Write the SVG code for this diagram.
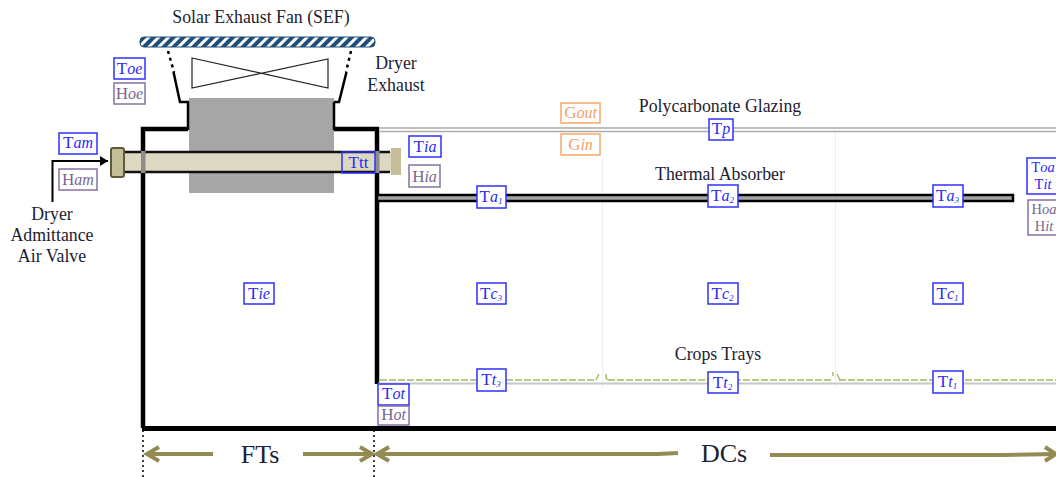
<svg xmlns="http://www.w3.org/2000/svg" width="1056" height="477" viewBox="0 0 1056 477">
<style>
text{font-family:"Liberation Serif","Times New Roman",serif;fill:#1c2230;text-anchor:middle}
.lbl{font-size:17.800px}
.tb{fill:#fff;stroke:#2f2fff;stroke-width:1.500}
.hb{fill:#fff;stroke:#8470a0;stroke-width:1.500}
.gb{fill:#fff;stroke:#f8a868;stroke-width:1.500}
.t{font-size:17px;fill:#2a2af5}
.h{font-size:17px;fill:#76688f}
.g{font-size:17px;fill:#f3a066}
.i{font-style:italic;font-size:16px}
.s{font-style:italic;font-size:9px}
.two{font-size:14.500px}
.two .i{font-size:14.500px}
.wall{fill:none;stroke:#000;stroke-width:4.500;stroke-linejoin:miter}
.thin{fill:none;stroke:#000;stroke-width:2.500}
.arr{fill:none;stroke:#948a54;stroke-width:4}
.big{font-size:26px}
</style>
<defs>
<pattern id="hatch" width="7" height="7" patternUnits="userSpaceOnUse" patternTransform="rotate(45)">
<rect width="7" height="7" fill="#fff"/><rect width="4" height="7" fill="#1f4e79"/>
</pattern>
<marker id="ah" markerUnits="userSpaceOnUse" markerWidth="10" markerHeight="12" refX="8" refY="6" orient="auto"><path d="M0,1 L8,6 L0,11 Z" fill="#000"/></marker>
</defs>

<g id="structure">
<line x1="602.500" y1="158" x2="602.500" y2="388" stroke="#eeeeee"/>
<line x1="835.500" y1="130" x2="835.500" y2="388" stroke="#eeeeee"/>
<rect x="189" y="98" width="145" height="95" fill="#a6a6a6"/>
<path class="wall" d="M143,428 V129 H188 M334,129 H377 V384"/>
<path class="thin" d="M188,130 V102 M334,130 V102"/>
<path d="M142,428.500 H1056" fill="none" stroke="#000" stroke-width="5"/>
<rect x="140" y="37" width="235" height="10" rx="4" fill="url(#hatch)" stroke="#1f4e79"/>
<path d="M168,51 L174,72" fill="none" stroke="#000" stroke-width="2.500" stroke-dasharray="3 4"/>
<path d="M351,51 L346,72" fill="none" stroke="#000" stroke-width="2.500" stroke-dasharray="3 4"/>
<path d="M173.500,72 L180,102 H189" class="thin"/>
<path d="M346.500,72 L339,102 H334" class="thin"/>
<path d="M192,58 L328,88 V59 L192,88 Z" fill="#fff" stroke="#222" stroke-width="1.200"/>
<path d="M380,128 H1056 M380,131.500 H1056" stroke="#ababab" stroke-width="1.500" fill="none"/>
<rect x="377" y="195" width="636" height="6" fill="#a6a6a6" stroke="#000" stroke-width="2.500"/>
<path d="M378,383.500 H1056" stroke="#c8c8c8" stroke-width="2" fill="none"/>
<path d="M380,380 H596 M608,380 H832 M839,380 H1056" stroke="#9bbb59" stroke-width="1.400" stroke-dasharray="7 2" fill="none"/>
<path d="M596,380 L599,374 M606,374 V378 L608,380 M833,372 V376 M837,374 L840,380" stroke="#9bbb59" stroke-width="1.400" fill="none"/>
</g>

<g id="tube">
<rect x="123" y="152" width="268" height="20" fill="#ddd8c2"/>
<path d="M123,152 H390 M123,172 H390" stroke="#111" stroke-width="2.500" fill="none"/>
<rect x="141" y="151" width="4.500" height="22" fill="#8c8c8c"/>
<rect x="375" y="151" width="4.500" height="22" fill="#8c8c8c"/>
<rect x="111" y="148" width="13" height="29" rx="2" fill="#c4bd97" stroke="#5f5a38" stroke-width="2"/>
<rect x="391" y="148" width="10" height="27" fill="#c4bd97"/>
</g>

<g id="connectors">
<path d="M52.500,202 V161 H108" fill="none" stroke="#000" stroke-width="2" marker-end="url(#ah)"/>
<path d="M143,430 V477 M374,430 V477" fill="none" stroke="#000" stroke-width="1.500" stroke-dasharray="2 3"/>
<path class="arr" d="M147,454 H213 M303,454 H372 M376,454 H658 L678,453 M770,455 H1003 L1056,454"/>
<path class="arr" d="M159,447 L147,454 L159,461 M360,447 L372,454 L360,461 M389,447 L377,454 L389,461 M1045,447 L1056,454 L1045,461"/>
</g>

<g id="labels">
<text class="lbl" x="261" y="23">Solar Exhaust Fan (SEF)</text>
<text class="lbl" x="396" y="69">Dryer</text>
<text class="lbl" x="396" y="91">Exhaust</text>
<text class="lbl" x="52" y="220">Dryer</text>
<text class="lbl" x="52" y="241">Admittance</text>
<text class="lbl" x="52" y="262">Air Valve</text>
<text class="lbl" x="720" y="112">Polycarbonate Glazing</text>
<text class="lbl" x="720" y="180">Thermal Absorber</text>
<text class="lbl" x="718" y="360">Crops Trays</text>
<text class="big" x="260" y="463">FTs</text>
<text class="big" x="724" y="462">DCs</text>
</g>

<g id="n-toe"><rect class="tb" x="114" y="58" width="31" height="21"/><text class="t" x="129.500" y="74">T<tspan class="i">oe</tspan></text></g>
<g id="n-hoe"><rect class="hb" x="114" y="83" width="31" height="21"/><text class="h" x="129.500" y="99">H<tspan class="i">oe</tspan></text></g>
<g id="n-tam"><rect class="tb" x="59" y="133" width="38" height="21"/><text class="t" x="78" y="148">T<tspan class="i">am</tspan></text></g>
<g id="n-ham"><rect class="hb" x="59" y="169" width="38" height="21"/><text class="h" x="78" y="185">H<tspan class="i">am</tspan></text></g>
<g id="n-ttt"><rect x="342" y="152" width="33" height="21" fill="none" stroke="#2f2fff" stroke-width="1.500"/><text class="t" x="358.500" y="168">Ttt</text></g>
<g id="n-tia"><rect class="tb" x="409" y="136" width="32" height="21"/><text class="t" x="425" y="152">T<tspan class="i">ia</tspan></text></g>
<g id="n-hia"><rect class="hb" x="409" y="165" width="31" height="22"/><text class="h" x="424.500" y="182">H<tspan class="i">ia</tspan></text></g>
<g id="n-gout"><rect class="gb" x="561" y="103" width="39" height="20"/><text class="g" x="580.500" y="118">G<tspan class="i">out</tspan></text></g>
<g id="n-gin"><rect class="gb" x="561" y="134" width="39" height="21"/><text class="g" x="580.500" y="150">G<tspan class="i">in</tspan></text></g>
<g id="n-tp"><rect class="tb" x="709" y="119" width="24" height="21"/><text class="t" x="721" y="134">T<tspan class="i">p</tspan></text></g>
<g id="n-ta1"><rect class="tb" x="477" y="186" width="29" height="22"/><text class="t" x="491" y="202">T<tspan class="i">a</tspan><tspan class="s" dy="2">1</tspan></text></g>
<g id="n-ta2"><rect class="tb" x="708" y="185" width="30" height="22"/><text class="t" x="722.500" y="201">T<tspan class="i">a</tspan><tspan class="s" dy="2">2</tspan></text></g>
<g id="n-ta3"><rect class="tb" x="933" y="185" width="30" height="22"/><text class="t" x="947.500" y="201">T<tspan class="i">a</tspan><tspan class="s" dy="2">3</tspan></text></g>
<g id="n-toa"><rect class="tb" x="1027" y="158" width="35" height="36"/><text class="t two" x="1043" y="172">T<tspan class="i">oa</tspan></text><text class="t two" x="1043" y="189">T<tspan class="i">it</tspan></text></g>
<g id="n-hoa"><rect class="hb" x="1028" y="200" width="35" height="35"/><text class="h two" x="1044" y="214">H<tspan class="i">oa</tspan></text><text class="h two" x="1044" y="231">H<tspan class="i">it</tspan></text></g>
<g id="n-tie"><rect class="tb" x="244" y="283" width="30" height="21"/><text class="t" x="259" y="299">T<tspan class="i">ie</tspan></text></g>
<g id="n-tc3"><rect class="tb" x="477" y="283" width="29" height="21"/><text class="t" x="491" y="299">T<tspan class="i">c</tspan><tspan class="s" dy="2">3</tspan></text></g>
<g id="n-tc2"><rect class="tb" x="708" y="283" width="30" height="21"/><text class="t" x="722.500" y="299">T<tspan class="i">c</tspan><tspan class="s" dy="2">2</tspan></text></g>
<g id="n-tc1"><rect class="tb" x="933" y="283" width="30" height="21"/><text class="t" x="947.500" y="299">T<tspan class="i">c</tspan><tspan class="s" dy="2">1</tspan></text></g>
<g id="n-tt3"><rect class="tb" x="477" y="369" width="29" height="22"/><text class="t" x="491" y="385">T<tspan class="i">t</tspan><tspan class="s" dy="2">3</tspan></text></g>
<g id="n-tt2"><rect class="tb" x="708" y="372" width="30" height="21"/><text class="t" x="722.500" y="388">T<tspan class="i">t</tspan><tspan class="s" dy="2">2</tspan></text></g>
<g id="n-tt1"><rect class="tb" x="933" y="371" width="30" height="22"/><text class="t" x="947.500" y="387">T<tspan class="i">t</tspan><tspan class="s" dy="2">1</tspan></text></g>
<g id="n-tot"><rect class="tb" x="378" y="384" width="31" height="21"/><text class="t" x="393.500" y="399">T<tspan class="i">ot</tspan></text></g>
<g id="n-hot"><rect class="hb" x="378" y="406" width="31" height="19"/><text class="h" x="393.500" y="420">H<tspan class="i">ot</tspan></text></g>
</svg>
